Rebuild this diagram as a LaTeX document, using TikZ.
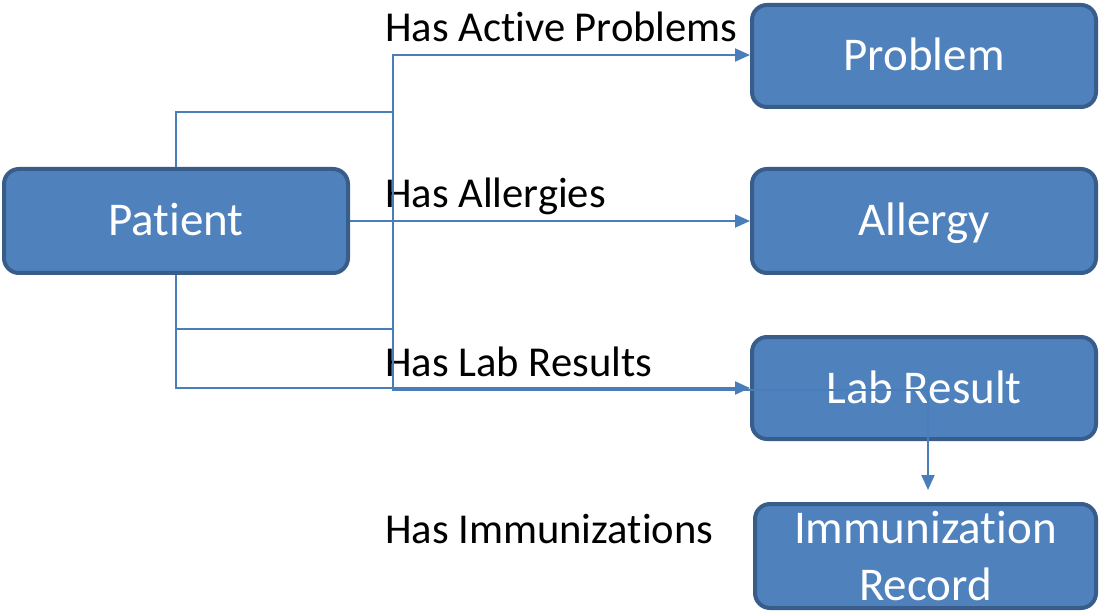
\documentclass[tikz,border=0pt]{standalone}
\usepackage{fontspec}
\setmainfont[Ligatures=NoCommon]{Carlito}
\usetikzlibrary{arrows.meta}
\definecolor{boxfill}{HTML}{4F81BD}
\definecolor{boxedge}{HTML}{385D8A}
\definecolor{link}{HTML}{4A7EBB}
\tikzset{
  entity/.style={draw=boxedge, fill=boxfill, line width=4pt, rounded corners=15pt,
    minimum width=344pt, minimum height=104pt, inner sep=0pt, text=white,
    font=\fontsize{47}{57}\selectfont},
  oneline/.style={text height=30pt, text depth=0pt},
  rel/.style={anchor=base west, inner sep=0pt, text=black, font=\fontsize{42.6}{50}\selectfont},
  link/.style={draw=link, line width=2pt},
  tip/.style={-{Triangle[length=15pt,width=13pt]}}
}
\begin{document}
\begin{tikzpicture}[x=1pt,y=-1pt]
\useasboundingbox (0,0) rectangle (1100,612);
% boxes
\node[entity, oneline] (patient) at (176,221) {Patient};
\node[entity, oneline, minimum height=102pt] (problem) at (924,56) {Problem};
\node[entity, oneline] (allergy) at (924,221) {Allergy};
\node[entity, oneline, minimum height=102pt] (lab) at (924,388) {Lab Result};
\node[entity, align=center, minimum width=341pt] (immun) at (925.5,556) {Immunization\\Record};
% labels
\node[rel] (l1) at (385,42) {Has Active Problems};
\node[rel] (l2) at (385,208) {Has Allergies};
\node[rel] (l3) at (385,376) {Has Lab Results};
\node[rel] (l4) at (385,543) {Has Immunizations};
% junctions
\coordinate (jt) at (393,112);
\coordinate (jb) at (393,329);
\coordinate (jp) at (393,55);
\coordinate (ji) at (393,390);
% connectors
\draw[link, tip] (patient.south) |- (jb) -- (jp) -- (problem.west |- jp);
\draw[link, tip] (patient.east) -- (allergy.west);
\draw[link, tip] (patient.south) |- (lab.west);
\draw[link, tip, shorten >=12pt] (patient.north) |- (jt) -- (ji) -| (immun.north -| 928,0);
\end{tikzpicture}
\end{document}
